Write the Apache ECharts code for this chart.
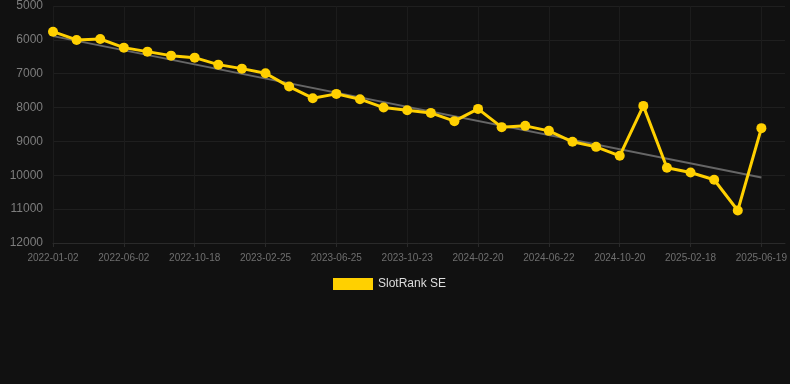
<!DOCTYPE html>
<html>
<head>
<meta charset="utf-8">
<script src="https://cdn.jsdelivr.net/npm/echarts@6/dist/echarts.min.js"></script>
<style>
html,body{margin:0;padding:0;background:#111111;}
#chart{width:790px;height:384px;}
</style>
</head>
<body>
<div id="chart"></div>
<script>
var categories = [
  '2022-01-02','2022-02-21','2022-04-12','2022-06-02','2022-07-18','2022-09-02',
  '2022-10-18','2022-12-01','2023-01-13','2023-02-25','2023-04-06','2023-05-16',
  '2023-06-25','2023-08-04','2023-09-13','2023-10-23','2023-12-02','2024-01-11',
  '2024-02-20','2024-04-01','2024-05-12','2024-06-22','2024-08-01','2024-09-10',
  '2024-10-20','2024-11-29','2025-01-08','2025-02-18','2025-03-30','2025-05-09',
  '2025-06-19'
];
var rankValues = [
  5758, 6003, 5974, 6230, 6348, 6466,
  6525, 6732, 6850, 6985, 7380, 7723,
  7596, 7752, 8000, 8077, 8157, 8401,
  8039, 8578, 8540, 8688, 9012, 9160,
  9425, 7950, 9779, 9918, 10133, 11039,
  8608
];
var trendStart = 5890;
var trendEnd = 10065;
var yTicks = [5000, 6000, 7000, 8000, 9000, 10000, 11000, 12000];

var chart = echarts.init(document.getElementById('chart'));
chart.setOption({
  backgroundColor: '#111111',
  animation: false,
  grid: { left: 53, right: 5, top: 6, bottom: 141 },
  legend: {
    data: ['SlotRank SE'],
    top: 273,
    left: 328,
    icon: 'rect',
    itemWidth: 40,
    itemHeight: 12,
    itemGap: 10,
    textStyle: { color: '#dddddd', fontSize: 12, fontFamily: 'Liberation Sans, Arial, sans-serif' }
  },
  xAxis: {
    type: 'category',
    data: categories,
    boundaryGap: false,
    max: categories.length,
    axisLine: { show: true, lineStyle: { color: '#2a2a2a' } },
    axisTick: { show: true, interval: 2, length: 4, lineStyle: { color: '#2a2a2a' } },
    axisLabel: { interval: 2, color: '#6f6f6f', fontSize: 10, margin: 10, fontFamily: 'Liberation Sans, Arial, sans-serif' },
    splitLine: { show: true, interval: 2, lineStyle: { color: '#1c1c1c' } }
  },
  yAxis: {
    type: 'value',
    inverse: true,
    min: yTicks[0],
    max: yTicks[yTicks.length - 1],
    interval: 1000,
    axisLine: { show: false },
    axisTick: { show: false },
    axisLabel: {
      color: '#7d7d7d', fontSize: 12, margin: 10,
      fontFamily: 'Liberation Sans, Arial, sans-serif',
      formatter: function (v) { return String(v); }
    },
    splitLine: { show: true, lineStyle: { color: '#1f1f1f' } }
  },
  series: [
    {
      name: 'Trend',
      type: 'line',
      data: [[categories[0], trendStart], [categories[categories.length - 1], trendEnd]],
      symbol: 'none',
      silent: true,
      lineStyle: { color: '#666666', width: 2 },
      z: 1
    },
    {
      name: 'SlotRank SE',
      type: 'line',
      data: rankValues,
      symbol: 'circle',
      symbolSize: 10,
      itemStyle: { color: '#ffd000' },
      lineStyle: { color: '#ffd000', width: 3 },
      z: 2
    }
  ]
});
</script>
</body>
</html>
